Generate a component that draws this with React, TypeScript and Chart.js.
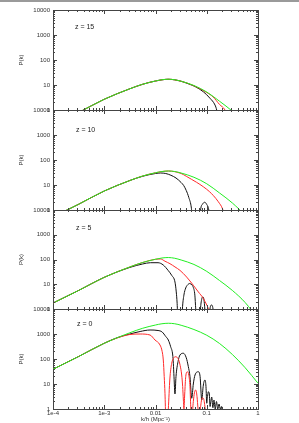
import React, { useEffect, useRef } from "react";
import { Chart, registerables } from "chart.js";

Chart.register(...registerables);

// ---------- axis ticks ----------
const X_TICKS = [1e-4, 1e-3, 1e-2, 1e-1, 1];
const X_TICK_LABELS = ["1e-4", "1e-3", "0.01", "0.1", "1"];
const Y_TICKS = [1, 10, 100, 1000, 10000];
const Y_TICK_LABELS = ["1", "10", "100", "1000", "10000"];
const X_TITLE = "k/h (Mpc\u207B\u00B9)";
const Y_TITLE = "P(k)";
const REDSHIFT_LABELS = ["z = 15", "z = 10", "z = 5", "z = 0"];

// ---------- data: log10 k and log10 P(k) ----------
const GREEN_LOGK = [-4, -3.5, -3, -2.5, -2.25, -2, -1.875, -1.75, -1.625, -1.5, -1.25, -1, -0.75, -0.5, -0.25, 0];

// z = 15
const Z15_GREEN = [-0.61, -0.1, 0.43, 0.85, 1.03, 1.16, 1.21, 1.23, 1.21, 1.15, 0.98, 0.72, 0.35, -0.05, -0.55, -1.17];
const Z15_RED_LOGK = [-4, -3.5, -3, -2.5, -2.25, -2, -1.75, -1.5, -1.25, -1.0, -0.875, -0.75, -0.644, -0.55];
const Z15_RED = [-0.61, -0.1, 0.43, 0.85, 1.03, 1.16, 1.23, 1.15, 0.97, 0.7, 0.52, 0.22, 0.0, -0.5];
const Z15_BLACK_LOGK = [-4, -3.5, -3, -2.5, -2.25, -2, -1.75, -1.5, -1.35, -1.23, -1.067, -0.937, -0.839, -0.806, -0.75];
const Z15_BLACK = [-0.61, -0.1, 0.43, 0.85, 1.03, 1.16, 1.23, 1.15, 1.04, 0.94, 0.73, 0.47, 0.2, 0.0, -0.6];

// z = 10
const Z10_GREEN = [-0.28, 0.23, 0.76, 1.18, 1.36, 1.49, 1.54, 1.56, 1.54, 1.48, 1.31, 1.05, 0.68, 0.28, -0.22, -0.84];
const Z10_RED_LOGK = [-4, -3.5, -3, -2.5, -2.25, -2, -1.75, -1.5, -1.4, -1.3, -1.2, -1.067, -0.95, -0.872, -0.774, -0.689, -0.62];
const Z10_RED = [-0.28, 0.23, 0.76, 1.18, 1.36, 1.49, 1.56, 1.46, 1.35, 1.23, 1.11, 0.93, 0.74, 0.58, 0.33, 0.03, -0.5];
const Z10_BLACK_LOGK = [-4, -3.5, -3, -2.5, -2.25, -2, -1.9, -1.8, -1.7, -1.6, -1.5, -1.45, -1.4, -1.35, -1.3, -1.27, -1.2, -1.14, -1.12, -1.08, -1.04, -1.0, -0.96, -0.93];
const Z10_BLACK = [-0.28, 0.23, 0.76, 1.18, 1.35, 1.46, 1.48, 1.46, 1.39, 1.28, 1.1, 0.98, 0.78, 0.5, 0.08, -0.6, -1.5, -0.6, 0.0, 0.24, 0.31, 0.22, 0.0, -0.6];

// z = 5
const Z5_GREEN = [0.24, 0.75, 1.28, 1.7, 1.88, 2.01, 2.06, 2.08, 2.05, 1.98, 1.8, 1.52, 1.15, 0.75, 0.26, -0.4];
const Z5_RED_LOGK = [-4, -3.5, -3, -2.5, -2.25, -2, -1.9, -1.815, -1.717, -1.62, -1.522, -1.392, -1.262, -1.164, -1.067, -1.0, -0.969, -0.93];
const Z5_RED = [0.24, 0.75, 1.28, 1.7, 1.88, 2.01, 2.02, 1.93, 1.83, 1.7, 1.56, 1.29, 0.96, 0.69, 0.43, 0.16, 0.0, -0.6];
const Z5_BLACK_LOGK = [-4, -3.5, -3, -2.5, -2.25, -2.1, -1.95, -1.85, -1.75, -1.684, -1.62, -1.595, -1.578, -1.56, -1.5, -1.475, -1.446, -1.41, -1.38, -1.33, -1.29, -1.265, -1.232, -1.215, -1.19, -1.15, -1.122, -1.1, -1.077, -1.055, -1.037, -1.01, -0.96, -0.937, -0.907, -0.878, -0.85];
const Z5_BLACK = [0.24, 0.75, 1.28, 1.68, 1.82, 1.87, 1.87, 1.78, 1.55, 1.36, 1.09, 0.69, 0.23, -0.6, -1.2, 0.0, 0.56, 0.85, 0.96, 1.03, 0.97, 0.89, 0.56, 0.0, -0.8, -1.2, 0.0, 0.38, 0.49, 0.38, 0.0, -0.8, -0.8, 0.0, 0.16, 0.0, -0.8];

// z = 0
const Z0_GREEN = [1.59, 2.1, 2.63, 3.05, 3.23, 3.36, 3.41, 3.43, 3.41, 3.35, 3.18, 2.95, 2.62, 2.18, 1.65, 1.03];
const Z0_RED_LOGK = [-4, -3.5, -3, -2.75, -2.5, -2.3, -2.107, -2.01, -1.912, -1.87, -1.848, -1.83, -1.815, -1.8, -1.77, -1.75, -1.72, -1.684, -1.65, -1.62, -1.56, -1.52, -1.489, -1.47, -1.456, -1.445, -1.43, -1.41, -1.378, -1.35, -1.327, -1.31, -1.29, -1.262, -1.24, -1.215, -1.19, -1.17, -1.15, -1.12, -1.09, -1.06, -1.03, -1.0];
const Z0_RED = [1.59, 2.1, 2.63, 2.84, 2.98, 3.0, 2.96, 2.76, 2.56, 2.3, 1.96, 1.3, 0.63, -0.3, -0.5, 0.0, 1.2, 1.83, 2.02, 2.09, 2.02, 1.75, 1.36, 0.9, 0.36, 0.0, 0.6, 1.3, 1.49, 1.35, 0.89, 0.0, -0.3, 0.3, 0.65, 0.76, 0.5, 0.0, -0.3, 0.1, 0.45, 0.4, 0.0, -0.5];
const Z0_BLACK_LOGK = [-4, -3.5, -3, -2.75, -2.5, -2.3, -2.107, -1.95, -1.87, -1.8, -1.75, -1.704, -1.664, -1.652, -1.639, -1.62, -1.6, -1.56, -1.522, -1.456, -1.4, -1.36, -1.327, -1.293, -1.262, -1.229, -1.164, -1.13, -1.098, -1.07, -1.054, -1.034, -1.015, -1.0, -0.985, -0.969, -0.95, -0.935, -0.92, -0.903, -0.88, -0.859, -0.835, -0.81, -0.785, -0.76, -0.735, -0.71, -0.69];
const Z0_BLACK = [1.59, 2.1, 2.63, 2.85, 3.0, 3.1, 3.16, 3.14, 3.08, 2.9, 2.76, 2.49, 2.16, 1.83, 1.29, 0.6, 1.3, 1.9, 2.16, 2.23, 2.05, 1.7, 1.29, 0.43, 1.0, 1.36, 1.49, 1.3, 0.36, 0.9, 1.09, 1.16, 0.9, 0.23, 0.5, 0.69, 0.6, 0.1, 0.3, 0.48, 0.05, 0.36, 0.0, 0.3, 0.0, 0.2, 0.0, 0.1, -0.5];

const PANELS = [
  { label: REDSHIFT_LABELS[0], green: Z15_GREEN, redK: Z15_RED_LOGK, red: Z15_RED, blackK: Z15_BLACK_LOGK, black: Z15_BLACK },
  { label: REDSHIFT_LABELS[1], green: Z10_GREEN, redK: Z10_RED_LOGK, red: Z10_RED, blackK: Z10_BLACK_LOGK, black: Z10_BLACK },
  { label: REDSHIFT_LABELS[2], green: Z5_GREEN, redK: Z5_RED_LOGK, red: Z5_RED, blackK: Z5_BLACK_LOGK, black: Z5_BLACK },
  { label: REDSHIFT_LABELS[3], green: Z0_GREEN, redK: Z0_RED_LOGK, red: Z0_RED, blackK: Z0_BLACK_LOGK, black: Z0_BLACK },
];

// ---------- layout / style ----------
const W = 299;
const H = 423;
const PLOT_LEFT = 53;
const PLOT_RIGHT = 258;
const PANEL_TOP = [10, 110, 210, 309];
const PANEL_BOTTOM = [110, 210, 309, 409];
const LABEL_POS = [
  { left: 75, top: 23 },
  { left: 76, top: 126 },
  { left: 76, top: 224 },
  { left: 77, top: 320 },
];
const AXIS = "#444";
const TEXT = "#333";
const FONT = "'Liberation Sans', Arial, sans-serif";
const GREEN = "#22ee22";
const RED = "#ff2a2a";
const BLACK = "#111";

const innerTicks = {
  id: "innerTicks",
  afterDraw(chart: any) {
    const { ctx, chartArea: a, scales } = chart;
    const xs = scales.x;
    const ys = scales.y;
    ctx.save();
    ctx.strokeStyle = AXIS;
    ctx.lineWidth = 1;
    ctx.beginPath();
    for (const dec of X_TICKS) {
      for (let m = 1; m <= 9; m++) {
        const v = dec * m;
        if (v > X_TICKS[X_TICKS.length - 1] * 1.0001) break;
        const px = Math.round(xs.getPixelForValue(v)) + 0.5;
        const len = m === 1 ? 4 : 2;
        ctx.moveTo(px, a.bottom);
        ctx.lineTo(px, a.bottom - len);
        ctx.moveTo(px, a.top);
        ctx.lineTo(px, a.top + len);
      }
    }
    for (const dec of Y_TICKS) {
      for (let m = 1; m <= 9; m++) {
        const v = dec * m;
        if (v > Y_TICKS[Y_TICKS.length - 1] * 1.0001) break;
        const py = Math.round(ys.getPixelForValue(v)) + 0.5;
        const len = m === 1 ? 4 : 2;
        ctx.moveTo(a.left, py);
        ctx.lineTo(a.left + len, py);
        ctx.moveTo(a.right, py);
        ctx.lineTo(a.right - len, py);
      }
    }
    ctx.stroke();
    ctx.restore();
  },
};

function toPoints(logk: number[], logp: number[]) {
  return logk.map((lk, i) => ({ x: Math.pow(10, lk), y: Math.pow(10, logp[i]) }));
}

function Panel({ idx }: { idx: number }) {
  const ref = useRef<HTMLCanvasElement>(null);
  useEffect(() => {
    const p = PANELS[idx];
    const last = idx === PANELS.length - 1;
    const top = PANEL_TOP[idx];
    const bottom = PANEL_BOTTOM[idx];
    const XH = last ? 14 : 0;
    const line = (data: any, color: string) => ({
      data,
      borderColor: color,
      backgroundColor: color,
      borderWidth: 1,
      pointRadius: 0,
      fill: false,
      cubicInterpolationMode: "monotone",
    });
    const font = { family: FONT, size: 6 };
    const chart = new Chart(ref.current as HTMLCanvasElement, {
      type: "line",
      data: {
        datasets: [
          line(toPoints(GREEN_LOGK, p.green), GREEN),
          line(toPoints(p.redK, p.red), RED),
          line(toPoints(p.blackK, p.black), BLACK),
        ] as any,
      },
      options: {
        animation: false,
        responsive: false,
        events: [],
        layout: {
          autoPadding: false,
          padding: { left: 0, top, right: W - PLOT_RIGHT, bottom: H - bottom - XH },
        },
        plugins: { legend: { display: false }, tooltip: { enabled: false }, title: { display: false } },
        scales: {
          x: {
            type: "logarithmic",
            position: "bottom",
            min: X_TICKS[0],
            max: X_TICKS[X_TICKS.length - 1],
            afterFit: (s: any) => { s.height = XH; },
            afterBuildTicks: (s: any) => { s.ticks = X_TICKS.map((v) => ({ value: v })); },
            grid: { display: false, drawTicks: false },
            border: { display: true, color: AXIS, width: 1 },
            ticks: {
              display: last,
              autoSkip: false,
              maxRotation: 0,
              minRotation: 0,
              padding: 1,
              font,
              color: TEXT,
              callback: (_v: any, i: number) => X_TICK_LABELS[i],
            },
            title: { display: last, text: X_TITLE, font, color: TEXT, padding: 0 },
          },
          x2: {
            type: "logarithmic",
            position: "top",
            min: X_TICKS[0],
            max: X_TICKS[X_TICKS.length - 1],
            afterFit: (s: any) => { s.height = 0; },
            grid: { display: false, drawTicks: false },
            border: { display: true, color: AXIS, width: 1 },
            ticks: { display: false },
          },
          y: {
            type: "logarithmic",
            position: "left",
            min: Y_TICKS[0],
            max: Y_TICKS[Y_TICKS.length - 1],
            afterFit: (s: any) => { s.width = PLOT_LEFT; },
            afterBuildTicks: (s: any) => { s.ticks = Y_TICKS.map((v) => ({ value: v })); },
            grid: { display: false, drawTicks: false },
            border: { display: true, color: AXIS, width: 1 },
            ticks: {
              autoSkip: false,
              padding: 3,
              font,
              color: TEXT,
              callback: (_v: any, i: number) => Y_TICK_LABELS[i],
            },
            title: { display: true, text: Y_TITLE, font, color: TEXT, padding: { top: 18, bottom: 0 } },
          },
          yr: {
            type: "logarithmic",
            position: "right",
            min: Y_TICKS[0],
            max: Y_TICKS[Y_TICKS.length - 1],
            afterFit: (s: any) => { s.width = 0; },
            grid: { display: false, drawTicks: false },
            border: { display: true, color: AXIS, width: 1 },
            ticks: { display: false },
          },
        } as any,
      },
      plugins: [innerTicks],
    });
    return () => chart.destroy();
  }, [idx]);
  return (
    <canvas
      ref={ref}
      width={W}
      height={H}
      style={{ position: "absolute", left: 0, top: 0, width: W, height: H }}
    />
  );
}

export default function App() {
  return (
    <div style={{ position: "absolute", left: 0, top: 0, width: W, height: H, background: "#fff", overflow: "hidden" }}>
      <div style={{ position: "absolute", left: 0, top: 0, width: W, height: 2, background: "#9a9a9a" }} />
      {PANELS.map((_, i) => (
        <Panel key={i} idx={i} />
      ))}
      {PANELS.map((p, i) => (
        <div
          key={"l" + i}
          style={{
            position: "absolute",
            left: LABEL_POS[i].left,
            top: LABEL_POS[i].top,
            fontFamily: FONT,
            fontSize: 7,
            lineHeight: "8px",
            color: "#222",
            whiteSpace: "nowrap",
          }}
        >
          {p.label}
        </div>
      ))}
    </div>
  );
}
